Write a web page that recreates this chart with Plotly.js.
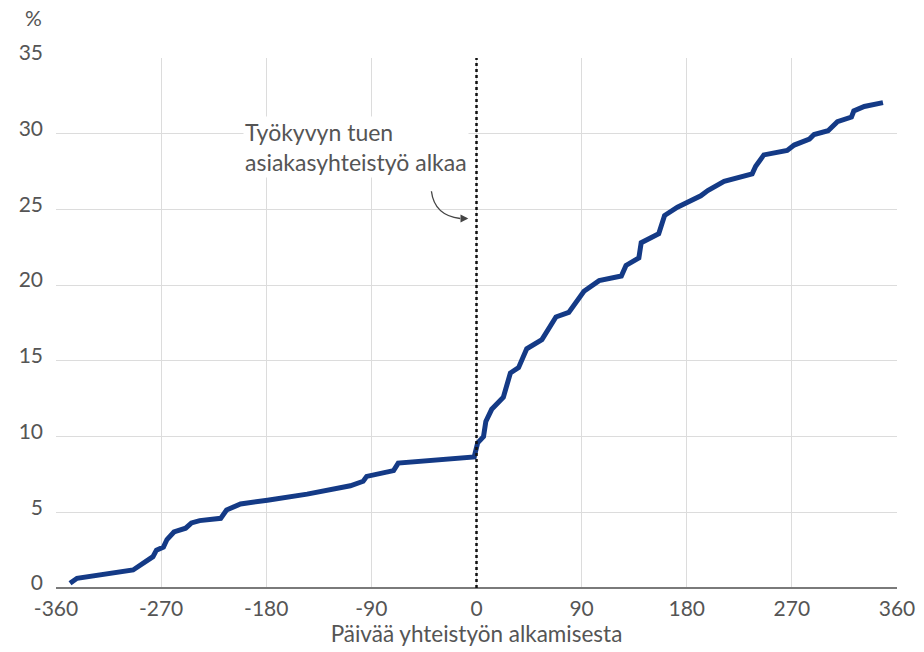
<!DOCTYPE html>
<html>
<head>
<meta charset="utf-8">
<script src="https://cdn.plot.ly/plotly-3.0.1.min.js"></script>
<style>html,body{margin:0;padding:0;background:#fff;}#chart{width:924px;height:652px;}</style>
</head>
<body>
<div id="chart"></div>
<script>
// Days relative to start of cooperation
const days = [-348,-342,-294,-277,-274,-268,-265,-259,-249,-244,-237,-219,-214,-202,-179,-145,-108,-97,-94,-71,-67,-2,
  1,6,8,13,23,26,29,36,43,56,68,79,92,105,124,128,139,141,156,161,172,192,198,212,236,239,246,266,272,285,289,301,309,321,323,332,348];
// Cumulative share, %
const share = [0.31,0.64,1.19,2.07,2.5,2.7,3.2,3.7,3.95,4.3,4.45,4.6,5.15,5.55,5.8,6.2,6.75,7.05,7.37,7.75,8.25,8.65,
  9.58,10.0,11.0,11.8,12.6,13.3,14.2,14.55,15.8,16.4,17.9,18.2,19.6,20.3,20.6,21.3,21.8,22.8,23.4,24.6,25.15,25.9,26.25,26.85,27.35,27.85,28.6,28.9,29.25,29.65,29.95,30.2,30.8,31.1,31.5,31.8,32.05];
const xTicks = [-360,-270,-180,-90,0,90,180,270,360];
const yTicks = [0,5,10,15,20,25,30,35];
const annotationText = 'Työkyvyn tuen<br>asiakasyhteistyö alkaa';
const xTitle = 'Päivää yhteistyön alkamisesta';
const yUnit = '%';

const fam = 'Lato, "Open Sans", sans-serif';
const tickFont = {family: fam, size: 21, color: '#555'};
const bigFont = {family: fam, size: 22.5, color: '#555'};
const noteFont = {family: fam, size: 23, color: '#555'};

const trace = {
  x: days, y: share, type: 'scatter', mode: 'lines',
  line: {color: '#143a86', width: 5, shape: 'linear'},
  hoverinfo: 'skip'
};

const layout = {
  width: 924, height: 652,
  margin: {l: 56, r: 27, t: 58, b: 64},
  paper_bgcolor: '#fff', plot_bgcolor: '#fff',
  showlegend: false,
  font: tickFont,
  xaxis: {
    range: [-360, 360], tickvals: xTicks, ticktext: xTicks.map(String),
    showgrid: true, gridcolor: '#dcdcdc', gridwidth: 1,
    zeroline: false, showline: false, ticks: '', ticklabelstandoff: 6,
    tickfont: tickFont, fixedrange: true,
    title: {text: xTitle, font: bigFont, standoff: 0}
  },
  yaxis: {
    range: [0, 35], tickvals: yTicks, ticktext: yTicks.map(String),
    showgrid: true, gridcolor: '#dcdcdc', gridwidth: 1,
    zeroline: true, zerolinecolor: '#7a7a7a', zerolinewidth: 1.5,
    showline: false, ticks: '', ticklabelstandoff: 12, ticklabelshift: -5,
    tickfont: tickFont, fixedrange: true
  },
  shapes: [
    {type: 'line', xref: 'x', yref: 'y', x0: 0, x1: 0, y0: 0, y1: 35,
     line: {color: '#111', width: 2.5, dash: 'dot'}},
    {type: 'path', xref: 'x', yref: 'y', path: 'M -38.6 26.2 Q -36 24.6 -14 24.4',
     line: {color: '#444', width: 1.3}}
  ],
  annotations: [
    {x: -199.7, y: 31.2, xref: 'x', yref: 'y', xanchor: 'left', yanchor: 'top',
     text: annotationText, align: 'left', showarrow: false, bgcolor: '#fff',
     font: noteFont},
    {x: -7, y: 24.4, xref: 'x', yref: 'y', ax: -9, ay: 0, text: '', showarrow: true,
     arrowhead: 2, arrowsize: 1.2, arrowwidth: 1.3, arrowcolor: '#444'},
    {x: 0, y: 1, xref: 'paper', yref: 'paper', xanchor: 'right', yanchor: 'bottom',
     xshift: -12, yshift: 26, text: yUnit, showarrow: false, font: tickFont}
  ]
};

Plotly.newPlot('chart', [trace], layout, {displayModeBar: false, staticPlot: true});
</script>
</body>
</html>
